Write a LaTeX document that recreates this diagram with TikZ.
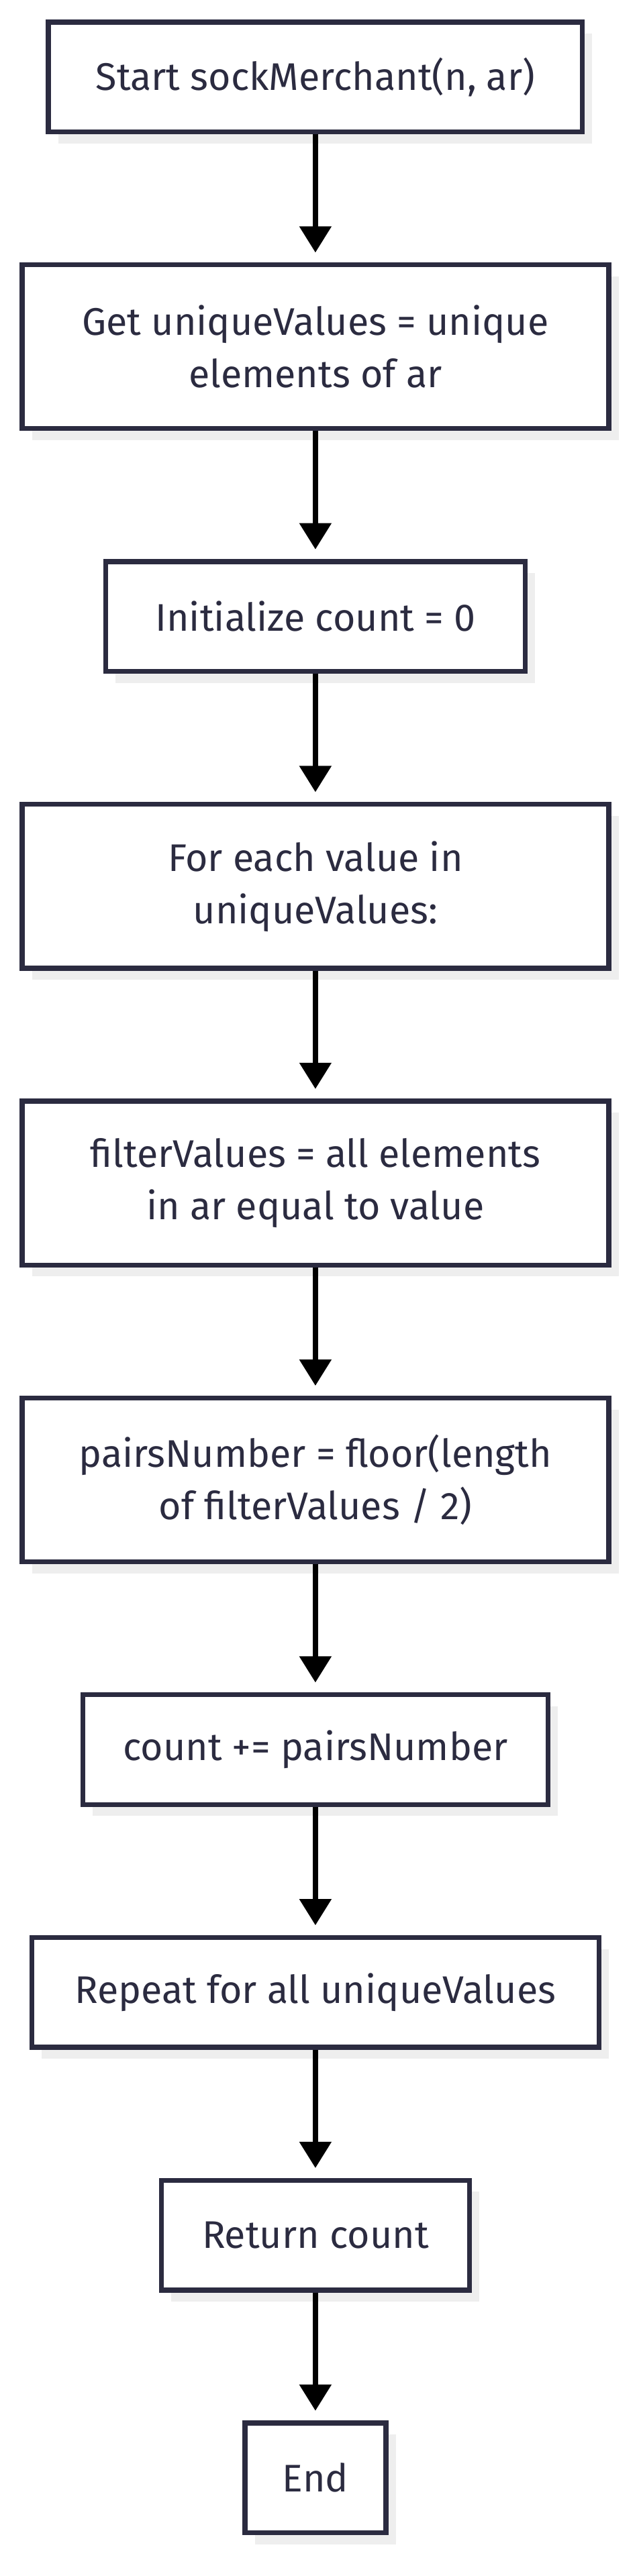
\documentclass[tikz,border=0pt]{standalone}
\usepackage{fontspec}
\setmainfont{Fira Sans}
\usetikzlibrary{positioning,shadows,arrows.meta}
\definecolor{boxline}{HTML}{2B2B40}
\definecolor{boxshade}{HTML}{EEEEEE}

\begin{document}
\begin{tikzpicture}[
  stepbox/.style={draw=boxline, line width=3pt, fill=white, text=boxline,
    minimum height=67pt, inner sep=0pt, align=center,
    font=\fontsize{23.5}{32}\selectfont,
    drop shadow={shadow xshift=6pt, shadow yshift=-7pt, fill=boxshade, opacity=1}},
  tallbox/.style={stepbox, minimum height=100pt, minimum width=358pt},
  flow/.style={-{Triangle[width=19pt,length=16pt]}, line width=3pt, shorten >=6pt}]

\useasboundingbox (0,0) rectangle (390pt,-1572.7pt);

% the steps, top to bottom
\node[stepbox, minimum width=326pt] (start) at (192.5pt,-47pt) {Start sockMerchant(n, ar)};
\node[tallbox, below=78.2pt of start] (uniq) {Get uniqueValues = unique\\elements of ar};
\node[stepbox, minimum width=256pt, below=78.2pt of uniq] (init) {Initialize count = 0};
\node[tallbox, below=78.2pt of init] (loop) {For each value in\\uniqueValues:};
\node[tallbox, below=78.2pt of loop] (filt) {filterValues = all elements\\in ar equal to value};
\node[tallbox, below=78.2pt of filt] (pairs) {pairsNumber = floor(length\\of filterValues / 2)};
\node[stepbox, minimum width=284pt, below=78.2pt of pairs] (add) {count += pairsNumber};
\node[stepbox, minimum width=346pt, below=78.2pt of add] (rep) {Repeat for all uniqueValues};
\node[stepbox, minimum width=188pt, below=78.2pt of rep] (ret) {Return count};
\node[stepbox, minimum width=86pt, below=78.2pt of ret] (stop) {End};

% arrows
\foreach \a/\b in {start/uniq,uniq/init,init/loop,loop/filt,filt/pairs,
                   pairs/add,add/rep,rep/ret,ret/stop} {
  \draw[flow] (\a) -- (\b);
}
\end{tikzpicture}
\end{document}
